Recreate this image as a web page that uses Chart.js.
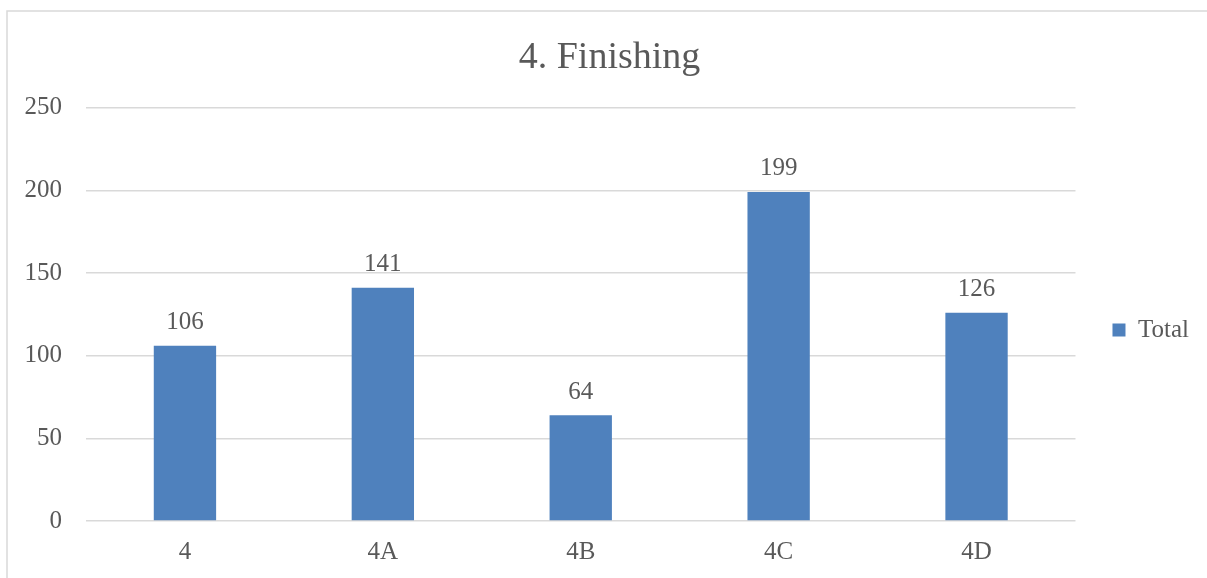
<!DOCTYPE html>
<html>
<head>
<meta charset="utf-8">
<script src="https://cdn.jsdelivr.net/npm/chart.js@4.4.1/dist/chart.umd.min.js"></script>
<style>
  html, body { margin: 0; padding: 0; background: #fff; }
  #wrap { width: 1207px; height: 578px; }
</style>
</head>
<body>
<div id="wrap"><canvas id="finishChart" width="1207" height="578"></canvas></div>
<script>
// finishing counts per section
const categories = ["4", "4A", "4B", "4C", "4D"];
const totals = [106, 141, 64, 199, 126];
const yTicks = [0, 50, 100, 150, 200, 250];

const TEXT = "#595959";
const FONT = "'Liberation Serif', 'DejaVu Serif', serif";

// white background + thin frame on the left and top edges
const framePlugin = {
  id: "frame",
  beforeDraw(chart) {
    const ctx = chart.ctx;
    ctx.save();
    ctx.fillStyle = "#fff";
    ctx.fillRect(0, 0, chart.width, chart.height);
    ctx.strokeStyle = "#d9d9d9";
    ctx.lineWidth = 1.5;
    ctx.beginPath();
    ctx.moveTo(7, chart.height);
    ctx.lineTo(7, 11);
    ctx.lineTo(chart.width, 11);
    ctx.stroke();
    ctx.restore();
  }
};

// value written above each bar
const valueLabels = {
  id: "valueLabels",
  afterDatasetsDraw(chart) {
    const ctx = chart.ctx;
    const meta = chart.getDatasetMeta(0);
    ctx.save();
    ctx.fillStyle = TEXT;
    ctx.font = "25px " + FONT;
    ctx.textAlign = "center";
    ctx.textBaseline = "middle";
    meta.data.forEach((bar, i) => {
      ctx.fillText(String(chart.data.datasets[0].data[i]), bar.x, bar.y - 23);
    });
    ctx.restore();
  }
};

new Chart(document.getElementById("finishChart").getContext("2d"), {
  type: "bar",
  data: {
    labels: categories,
    datasets: [{
      label: "Total",
      data: totals,
      backgroundColor: "#4f81bd",
      borderWidth: 0,
      barPercentage: 0.315,
      categoryPercentage: 1
    }]
  },
  options: {
    responsive: false,
    animation: false,
    layout: { padding: { top: 12, right: 8, bottom: 0, left: 20 } },
    plugins: {
      title: {
        display: true,
        text: "4. Finishing",
        color: TEXT,
        font: { family: FONT, size: 38, weight: "normal" },
        padding: { top: 23, bottom: 27 }
      },
      legend: {
        position: "right",
        // empty title only used as a spacer to push the entry down a bit
        title: {
          display: true,
          text: " ",
          font: { size: 10 },
          padding: { top: 58, bottom: 0 }
        },
        labels: {
          color: TEXT,
          font: { family: FONT, size: 25 },
          boxWidth: 13,
          boxHeight: 13,
          padding: 37
        }
      },
      tooltip: { enabled: false }
    },
    scales: {
      x: {
        afterFit(scale) { scale.height = 57; },
        grid: { display: false },
        border: { display: false },
        ticks: { color: TEXT, font: { family: FONT, size: 25 }, padding: 8 }
      },
      y: {
        min: 0,
        max: 250,
        afterBuildTicks(scale) {
          scale.ticks = yTicks.map(v => ({ value: v }));
        },
        afterFit(scale) { scale.width = 66; },
        grid: { color: "#d9d9d9", lineWidth: 1.5, drawTicks: false },
        border: { display: false },
        ticks: { color: TEXT, font: { family: FONT, size: 25 }, padding: 24 }
      }
    }
  },
  plugins: [framePlugin, valueLabels]
});
</script>
</body>
</html>
